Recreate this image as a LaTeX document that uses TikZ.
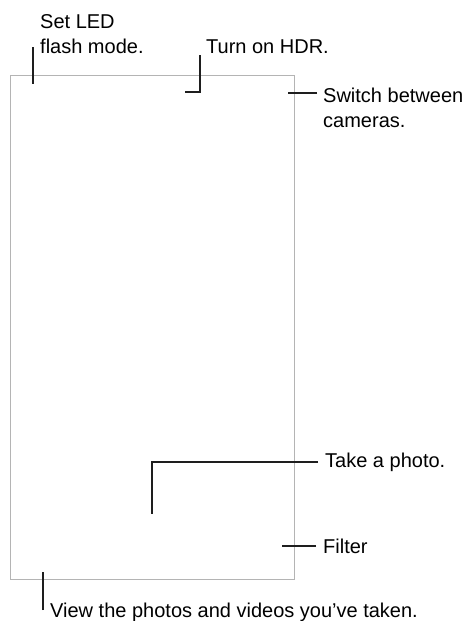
\documentclass[tikz,border=0pt]{standalone}
\usepackage{fontspec}
\setmainfont{Liberation Sans}
\usetikzlibrary{positioning}
\definecolor{framegray}{HTML}{B4B4B4}
\definecolor{leadblack}{HTML}{1E1E1E}

\begin{document}
\begin{tikzpicture}[
  x=1pt,y=-1pt,
  font=\fontsize{20}{25}\selectfont,
  lbl/.style={inner sep=0pt,anchor=base west,align=left,text=black},
  frame/.style={draw=framegray,line width=1.1pt},
  lead/.style={draw=leadblack,line width=1.3pt}
]
\useasboundingbox (0,0) rectangle (466,621);
% --- screen outline ---
\node[frame,inner sep=0pt,minimum width=284pt,minimum height=504pt,anchor=north west](scr) at(10,75){};
% --- labels (base = last line) ---
\node[lbl](led)  at(40,53){Set LED\\flash mode.};
\node[lbl](hdr)  at(206,53){Turn on HDR.};
\node[lbl](cam)  at(323,127){Switch between\\cameras.};
\node[lbl](shot) at(325,467){Take a photo.};
\node[lbl](filt) at(323,553){Filter};
\node[lbl](view) at(50,617){View the photos and videos you’ve taken.};
% --- leader ends ---
\coordinate (ledA) at(33,47);   \coordinate (ledB) at(33,84);
\coordinate (hdrA) at(200,55);  \coordinate (hdrB) at(200,92);
\coordinate (hdrC) at(185,92);
\coordinate (camA) at(317,93);  \coordinate (camB) at(288,93);
\coordinate (shotA) at(318,462); \coordinate (shotB) at(152,462);
\coordinate (shotC) at(152,514);
\coordinate (filtA) at(316,546); \coordinate (filtB) at(282,546);
\coordinate (viewA) at(43,610); \coordinate (viewB) at(43,572);
% --- leaders ---
\draw[lead](ledA)--(ledB);
\draw[lead](hdrA)--(hdrB)--(hdrC);
\draw[lead](camA)--(camB);
\draw[lead](shotA)--(shotB)--(shotC);
\draw[lead](filtA)--(filtB);
\draw[lead](viewA)--(viewB);
\end{tikzpicture}
\end{document}
